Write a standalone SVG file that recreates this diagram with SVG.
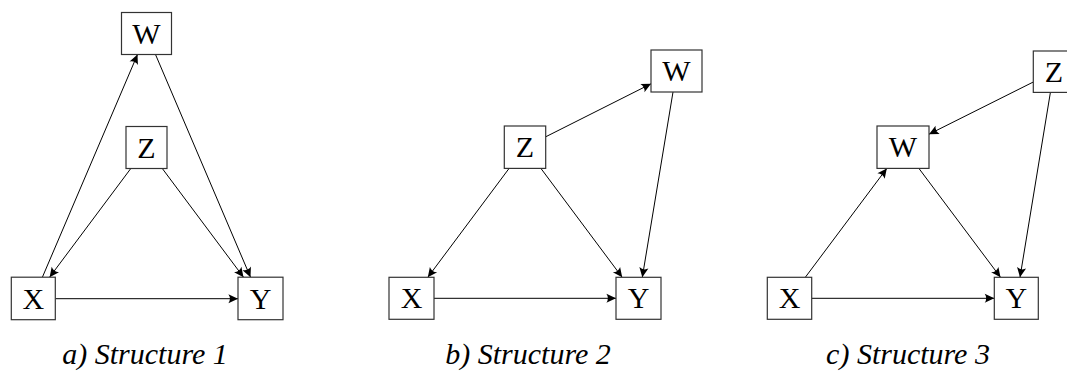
<svg xmlns="http://www.w3.org/2000/svg" width="1067" height="387" viewBox="0 0 1067 387">
<style>
.box{fill:#fff;stroke:#333;stroke-width:1.2}
.lbl{font-size:30px;text-anchor:middle;fill:#000}
.cap{font-size:30px;font-style:italic;text-anchor:middle;fill:#000}
.e{stroke:#000;stroke-width:1;fill:none;marker-end:url(#arr)}
</style>
<defs>
<marker id="arr" markerUnits="userSpaceOnUse" markerWidth="12" markerHeight="12" refX="0" refY="0" viewBox="-9 -5 10 10" orient="auto" overflow="visible">
<path d="M0,0 L-8,-3.8 Q-5.5,0 -8,3.8 Z" fill="#000"/>
</marker>
</defs>
<rect width="1067" height="387" fill="#fff"/>
<g id="connectors">
<line class="e" x1="42.4" y1="277.2" x2="137.5" y2="54.5"/>
<line class="e" x1="155.5" y1="54.5" x2="250.5" y2="277.2"/>
<line class="e" x1="130.8" y1="168.5" x2="49.6" y2="277.2"/>
<line class="e" x1="162.3" y1="168.5" x2="243.5" y2="277.2"/>
<line class="e" x1="55.3" y1="298.7" x2="238" y2="298.7"/>
<line class="e" x1="545.7" y1="136.8" x2="651" y2="83.8"/>
<line class="e" x1="673" y1="92" x2="642.3" y2="277.3"/>
<line class="e" x1="509.1" y1="168.4" x2="427.8" y2="277.3"/>
<line class="e" x1="540.9" y1="168.4" x2="622.2" y2="277.3"/>
<line class="e" x1="434" y1="298.3" x2="616" y2="298.3"/>
<line class="e" x1="1033.3" y1="82" x2="929" y2="134.2"/>
<line class="e" x1="1050.4" y1="92.4" x2="1020" y2="277.3"/>
<line class="e" x1="805.3" y1="277.3" x2="886.8" y2="168.4"/>
<line class="e" x1="918.9" y1="168.4" x2="1000.5" y2="277.3"/>
<line class="e" x1="811.7" y1="298.3" x2="994.3" y2="298.3"/>
</g>
<g font-family="Liberation Serif, Times New Roman, DejaVu Serif, serif">
<g id="a-W"><rect class="box" x="121.5" y="12.5" width="50" height="42"/><text class="lbl" x="146.5" y="43.5">W</text></g>
<g id="a-Z"><rect class="box" x="126" y="126.5" width="41" height="42"/><text class="lbl" x="146.5" y="157.5">Z</text></g>
<g id="a-X"><rect class="box" x="11.3" y="277.2" width="44" height="42.5"/><text class="lbl" x="33.3" y="308.5">X</text></g>
<g id="a-Y"><rect class="box" x="238" y="277.2" width="45" height="42.5"/><text class="lbl" x="260.5" y="308.5">Y</text></g>
<g id="b-W"><rect class="box" x="651" y="50" width="51" height="42"/><text class="lbl" x="676.5" y="81">W</text></g>
<g id="b-Z"><rect class="box" x="504.3" y="126" width="41.4" height="42.4"/><text class="lbl" x="525" y="157.2">Z</text></g>
<g id="b-X"><rect class="box" x="389" y="277.3" width="45" height="42"/><text class="lbl" x="411.5" y="308.3">X</text></g>
<g id="b-Y"><rect class="box" x="616" y="277.3" width="45" height="42"/><text class="lbl" x="638.5" y="308.3">Y</text></g>
<g id="c-Z"><rect class="box" x="1033.3" y="51" width="41" height="41.4"/><text class="lbl" x="1053.8" y="81.7">Z</text></g>
<g id="c-W"><rect class="box" x="877" y="126" width="52" height="42.4"/><text class="lbl" x="903" y="157.2">W</text></g>
<g id="c-X"><rect class="box" x="767.3" y="277.3" width="44.4" height="42"/><text class="lbl" x="789.5" y="308.3">X</text></g>
<g id="c-Y"><rect class="box" x="994.3" y="277.3" width="44" height="42"/><text class="lbl" x="1016.3" y="308.3">Y</text></g>
<g id="captions">
<text class="cap" x="145" y="364">a) Structure 1</text>
<text class="cap" x="528" y="364">b) Structure 2</text>
<text class="cap" x="908" y="364">c) Structure 3</text>
</g>
</g>
</svg>
